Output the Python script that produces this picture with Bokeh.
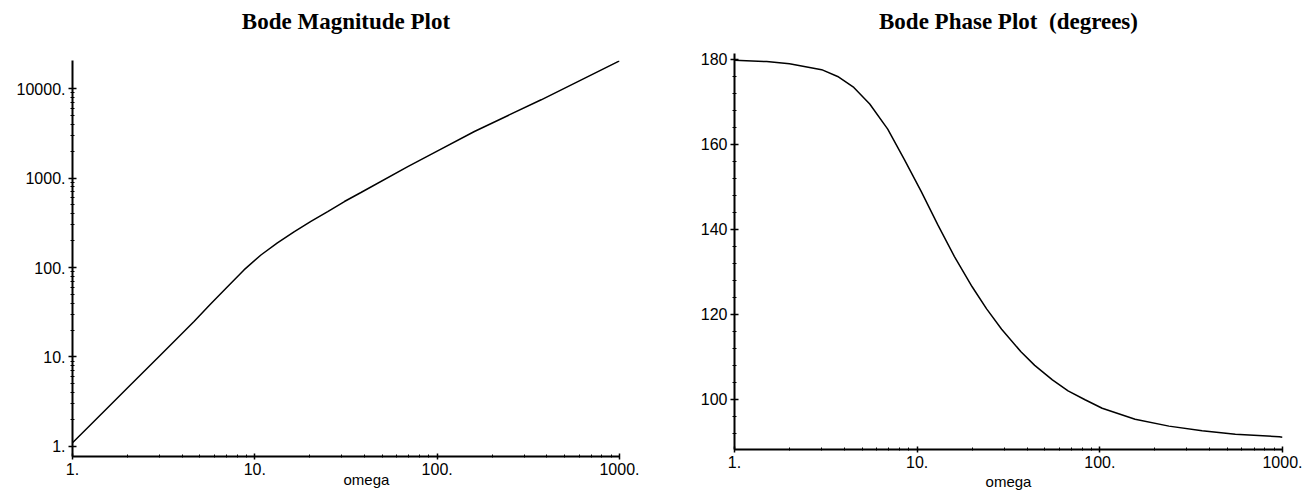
from bokeh.plotting import figure
from bokeh.layouts import row, column
from bokeh.models import Range1d, FixedTicker, Title, PrintfTickFormatter, LogAxis
from bokeh.embed import file_html
from bokeh.resources import INLINE

# Frequency response samples
mag_omega = [1.0, 1.31, 2.0, 3.05, 4.64, 5.72, 7.08, 8.72, 10.8, 13.3, 16.4, 20.3,
             25.1, 31.0, 38.2, 69.0, 100.0, 160.0, 250.0, 372.0, 1000.0]
magnitude = [1.1, 1.9, 4.5, 10.6, 24.9, 39.0, 61.0, 94.0, 138.0, 188.0, 250.0, 327.0,
             422.0, 546.0, 689.0, 1343.0, 2000.0, 3310.0, 5100.0, 7480.0, 20400.0]

phase_omega = [1.0, 1.5, 2.0, 3.0, 3.67, 4.5, 5.5, 6.9, 8.5, 10.5, 13.0, 16.0, 20.0, 24.0,
               29.0, 37.0, 44.0, 55.0, 67.0, 83.0, 103.0, 156.0, 239.0, 363.0, 552.0,
               960.0, 1000.0]
phase_deg = [179.8, 179.5, 179.0, 177.6, 176.0, 173.4, 169.5, 163.6, 156.5, 149.0, 141.0,
             133.6, 126.5, 121.3, 116.5, 111.2, 108.0, 104.6, 102.0, 99.9, 97.9, 95.3,
             93.7, 92.6, 91.8, 91.2, 91.1]

decade_ticks_x = [1, 10, 100, 1000]
decade_ticks_y = [1, 10, 100, 1000, 10000]
phase_ticks = [100, 120, 140, 160, 180]

TICK_FONT = "Liberation Sans"
TITLE_FONT = "Liberation Serif"


def log_minors(lo, hi):
    out = []
    d = lo
    while d < hi:
        out += [d * k for k in range(2, 10)]
        d *= 10
    return out


def style_axes(p):
    for ax in (p.xaxis[0], p.yaxis[0]):
        ax.axis_line_width = 2
        ax.axis_line_color = "black"
        ax.major_tick_line_color = "black"
        ax.minor_tick_line_color = "black"
        ax.major_tick_line_width = 1.5
        ax.minor_tick_line_width = 1
        ax.major_label_text_font = TICK_FONT
        ax.major_label_text_font_size = "16px"
        ax.major_label_text_color = "black"
    p.yaxis.major_tick_in = 4
    p.yaxis.major_tick_out = 4
    p.yaxis.minor_tick_in = 2
    p.yaxis.minor_tick_out = 2
    p.yaxis.major_label_standoff = 3
    p.xaxis.major_tick_in = 3
    p.xaxis.major_tick_out = 3
    p.xaxis.minor_tick_in = 2
    p.xaxis.minor_tick_out = 1
    p.xaxis.major_label_standoff = 3
    p.xgrid.visible = False
    p.ygrid.visible = False
    p.outline_line_color = None


def add_heading(p, text, standoff):
    # a tick-less axis along the top edge carries the heading
    head = LogAxis(ticker=FixedTicker(ticks=[]), axis_label=text,
                   axis_line_color=None, major_tick_line_color=None,
                   minor_tick_line_color=None, major_tick_in=0, major_tick_out=0,
                   minor_tick_in=0, minor_tick_out=0, major_label_text_font_size="0px",
                   axis_label_standoff=standoff, axis_label_text_font=TITLE_FONT,
                   axis_label_text_font_size="23px", axis_label_text_font_style="bold",
                   axis_label_text_color="black")
    p.add_layout(head, "above")


def add_xname(p, text, align, offset, standoff):
    p.add_layout(Title(text=text, align=align, offset=offset, text_font=TICK_FONT,
                       text_font_size="15px", text_font_style="normal",
                       text_color="black", standoff=standoff), "below")


# Magnitude plot
p1 = figure(x_axis_type="log", y_axis_type="log",
            x_range=Range1d(1, 1000), y_range=Range1d(0.773, 20560),
            width=660, height=490,
            min_border_left=72, min_border_right=41, min_border_top=60, min_border_bottom=34,
            output_backend="svg", toolbar_location=None)
p1.line(mag_omega, magnitude, line_color="black", line_width=1.5)
p1.xaxis.ticker = FixedTicker(ticks=decade_ticks_x, minor_ticks=log_minors(1, 1000))
p1.yaxis.ticker = FixedTicker(ticks=decade_ticks_y, minor_ticks=log_minors(1, 10000))
p1.xaxis.formatter = PrintfTickFormatter(format="%d.")
p1.yaxis.formatter = PrintfTickFormatter(format="%d.")
style_axes(p1)
add_heading(p1, "Bode Magnitude Plot", 27)
add_xname(p1, "omega", "left", 271, -20)

# Phase plot
p2 = figure(x_axis_type="log",
            x_range=Range1d(1, 1000), y_range=Range1d(88.2, 181.4),
            width=649, height=490,
            min_border_left=74, min_border_right=27, min_border_top=53, min_border_bottom=41,
            output_backend="svg", toolbar_location=None)
p2.line(phase_omega, phase_deg, line_color="black", line_width=1.5)
p2.xaxis.ticker = FixedTicker(ticks=decade_ticks_x, minor_ticks=log_minors(1, 1000))
p2.yaxis.ticker = FixedTicker(ticks=phase_ticks,
                              minor_ticks=[v for v in range(88, 181, 4) if v not in phase_ticks])
p2.xaxis.formatter = PrintfTickFormatter(format="%d.")
p2.yaxis.formatter = PrintfTickFormatter(format="%d")
style_axes(p2)
add_heading(p2, "Bode Phase Plot\u00a0 (degrees)", 20)
add_xname(p2, "omega", "center", 0, 0)

layout = row(column(p1), column(p2), spacing=0)
open("out.html", "w").write(file_html(layout, INLINE))
